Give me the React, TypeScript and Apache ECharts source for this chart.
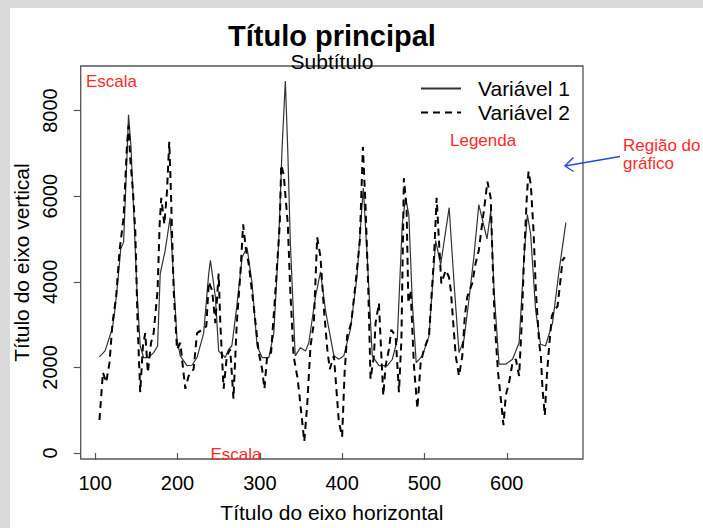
import React, { useEffect, useRef } from "react";
import * as echarts from "echarts";

const FONT = "'Liberation Sans', Arial, Helvetica, sans-serif";

const xTicks = [100, 200, 300, 400, 500, 600];
const yTicks = [0, 2000, 4000, 6000, 8000];

const seriesNames = ["Variável 1", "Variável 2"];

const v1X = [105, 112, 121, 124, 128, 131, 134.5, 137.3, 140.5, 143.4, 146.6, 150.7, 154.7, 158.8, 164.8, 171, 175.8, 179, 185, 191, 199.4, 203.4, 211.5, 217.6, 223.7, 231.8, 237.9, 240, 246, 250, 258, 262, 266, 272, 278.5, 284.5, 290.6, 296.7, 302.8, 310.9, 317, 323, 327, 331, 334, 337, 343, 349.4, 355.5, 359.5, 367.6, 373.7, 380, 390, 396, 402, 410, 418, 425.7, 430.5, 436.6, 444.7, 454.9, 461, 467, 473, 477, 481, 485.3, 490, 497.4, 505.5, 513.6, 519.7, 530, 536, 542, 548, 554, 560, 566, 576, 580.5, 584.5, 590.6, 598.8, 607, 615, 621, 625, 629, 635, 641, 647, 655.6, 663.6, 671.8];
const v1Y = [2245, 2385, 2920, 3350, 4110, 4770, 4920, 6270, 7900, 7190, 5730, 3800, 2500, 2230, 2230, 2345, 2500, 4190, 4730, 5500, 2650, 2270, 2040, 2050, 2230, 2800, 4190, 4500, 3650, 2380, 2230, 2420, 2500, 3420, 4575, 4800, 3960, 2500, 2230, 2230, 2800, 4960, 7110, 8690, 7040, 4960, 2270, 2460, 2380, 2575, 3650, 4230, 3300, 2270, 2190, 2270, 2880, 4110, 6190, 4575, 2270, 2040, 2040, 2190, 2650, 5340, 5960, 5570, 3500, 2110, 2270, 2730, 4960, 4400, 5730, 3960, 2345, 2650, 3575, 4575, 5800, 5000, 5650, 3800, 2075, 2075, 2190, 2575, 4575, 5570, 5110, 3345, 2540, 2500, 3040, 4270, 5380];

const v2X = [105.2, 109.4, 113.4, 117.4, 121, 125.5, 129.6, 134.5, 138.6, 140.5, 142.6, 145.9, 148.7, 151.5, 154.7, 158, 160.8, 164, 167.8, 171, 175.8, 178.3, 180.3, 184, 187.2, 190, 192, 195.3, 199.4, 203.4, 205.5, 209.5, 213.5, 219.6, 223.7, 229.8, 235, 238, 242, 246, 250, 252, 256, 260, 264, 268, 272, 276.4, 279.7, 283.3, 286.5, 292.6, 298.7, 302.8, 305.6, 308.9, 313.7, 319, 324.2, 326, 329, 334, 337, 341, 346, 349.4, 354, 357.5, 361.6, 365.6, 369.7, 373.7, 377.7, 382, 385, 390, 393, 396, 400, 403, 406, 411, 416.3, 421.5, 425.2, 428.5, 431.8, 434.5, 438.6, 440.6, 444.7, 446.7, 450, 452.8, 456.8, 459.7, 465, 469, 472, 475, 478.3, 480.4, 483.2, 487.2, 491.4, 495.4, 499.4, 505.5, 511.6, 514.8, 517.6, 520.5, 525.8, 529.8, 532, 535, 538, 542, 546, 549, 552, 558, 562, 566, 570, 573.6, 576.5, 580.5, 582.6, 585.4, 589.4, 592.7, 596, 598.8, 602.8, 607, 611, 615, 618.2, 621, 624.3, 626.4, 629.2, 632.5, 635.3, 639.3, 641.4, 643.4, 646.2, 648.7, 651.5, 654.7, 657.6, 661.6, 664.8, 667.7, 670.5];
const v2Y = [770, 1880, 1650, 2110, 3035, 3650, 4730, 5500, 7190, 7650, 6880, 6110, 5190, 3035, 1420, 2500, 2800, 1880, 2575, 2800, 3800, 5340, 5960, 5340, 6110, 7270, 6110, 3800, 2420, 2575, 2190, 1500, 1800, 1960, 2800, 2880, 2960, 4000, 3800, 3035, 4190, 3035, 1500, 2270, 2420, 1270, 3035, 4190, 5340, 4730, 4420, 3420, 2345, 1960, 1500, 2270, 2345, 3800, 5340, 6730, 6500, 5340, 3800, 2270, 1730, 1115, 270, 1115, 2500, 3035, 5040, 4575, 3400, 2420, 1960, 2270, 1500, 730, 380, 1880, 2730, 3035, 3960, 4960, 7150, 5730, 3800, 1730, 2270, 3035, 3500, 2650, 1345, 2040, 2420, 2880, 2730, 1420, 2650, 6420, 5730, 3500, 3800, 2040, 1040, 2110, 2420, 2730, 4575, 5960, 4960, 3960, 4270, 4110, 3800, 3035, 2270, 1800, 2270, 3190, 3650, 3960, 4420, 4730, 5340, 5880, 6340, 5960, 4575, 3035, 1880, 1270, 650, 1345, 1650, 2110, 2190, 1800, 3035, 4575, 5960, 6575, 6270, 5190, 3800, 2575, 2270, 1500, 880, 1800, 2500, 3190, 3345, 3420, 3960, 4500, 4575];

export default function App() {
  const ref = useRef<HTMLDivElement>(null);

  useEffect(() => {
    if (!ref.current) return;
    const chart = echarts.init(ref.current, null, { renderer: "svg" });
    const red = "#ff2a2a";
    const blue = "#2448d8";
    const option: any = {
      animation: false,
      backgroundColor: "transparent",
      textStyle: { fontFamily: FONT },
      grid: {
        left: 80.7,
        top: 66,
        right: 120,
        bottom: 64,
        show: true,
        borderColor: "#555",
        borderWidth: 1.3,
        backgroundColor: "transparent",
      },
      legend: {
        data: seriesNames,
        orient: "vertical",
        left: 420,
        top: 78,
        padding: 0,
        itemWidth: 40,
        itemHeight: 14,
        itemGap: 3,
        itemStyle: { color: "rgba(0,0,0,0)", borderWidth: 0, opacity: 0 },
        textStyle: { fontSize: 21, color: "#000", fontFamily: FONT, padding: [0, 0, 0, 12] },
      },
      xAxis: {
        type: "value",
        min: 82.4,
        max: 692.6,
        splitLine: { show: false },
        axisLine: { show: false },
        axisTick: { show: true, inside: false, length: 7, lineStyle: { color: "#555", width: 1.2 }, customValues: xTicks },
        axisLabel: { customValues: xTicks, fontSize: 20, color: "#000", margin: 14, fontFamily: FONT, formatter: (v: number) => String(v) },
        name: "Título do eixo horizontal",
        nameLocation: "middle",
        nameGap: 43,
        nameTextStyle: { fontSize: 21, color: "#000", fontFamily: FONT },
      },
      yAxis: {
        type: "value",
        min: -140,
        max: 9040,
        splitLine: { show: false },
        axisLine: { show: false },
        axisTick: { show: true, inside: false, length: 7, lineStyle: { color: "#555", width: 1.2 }, customValues: yTicks },
        axisLabel: { customValues: yTicks, fontSize: 20, color: "#000", margin: 21, rotate: 90, fontFamily: FONT, formatter: (v: number) => String(v) },
        name: "Título do eixo vertical",
        nameLocation: "middle",
        nameGap: 49,
        nameTextStyle: { fontSize: 21, color: "#000", fontFamily: FONT },
      },
      series: [
        {
          name: seriesNames[0],
          type: "line",
          data: v1X.map((x, i) => [x, v1Y[i]]),
          symbol: "none",
          lineStyle: { color: "#333", width: 1.2, type: "solid" },
          itemStyle: { color: "#000" },
          z: 3,
        },
        {
          name: seriesNames[1],
          type: "line",
          data: v2X.map((x, i) => [x, v2Y[i]]),
          symbol: "none",
          lineStyle: { color: "#000", width: 2, type: [7, 5] },
          itemStyle: { color: "#000" },
          z: 4,
        },
      ],
      graphic: [
        { type: "text", x: 332, y: 35.5, style: { text: "Título principal", font: `bold 29px ${FONT}`, fill: "#000", textAlign: "center", textVerticalAlign: "middle" } },
        { type: "text", x: 332, y: 61, style: { text: "Subtítulo", font: `21px ${FONT}`, fill: "#000", textAlign: "center", textVerticalAlign: "middle" } },
        { type: "text", x: 86, y: 81.5, style: { text: "Escala", font: `17px ${FONT}`, fill: red, textAlign: "left", textVerticalAlign: "middle" } },
        { type: "text", x: 210.5, y: 454, style: { text: "Escala", font: `17px ${FONT}`, fill: red, textAlign: "left", textVerticalAlign: "middle" } },
        { type: "text", x: 450, y: 140, style: { text: "Legenda", font: `17px ${FONT}`, fill: red, textAlign: "left", textVerticalAlign: "middle" } },
        { type: "text", x: 623, y: 145.5, style: { text: "Região do", font: `17px ${FONT}`, fill: red, textAlign: "left", textVerticalAlign: "middle" } },
        { type: "text", x: 623, y: 163.5, style: { text: "gráfico", font: `17px ${FONT}`, fill: red, textAlign: "left", textVerticalAlign: "middle" } },
        { type: "line", shape: { x1: 620, y1: 156.5, x2: 565, y2: 166 }, style: { stroke: blue, lineWidth: 1.4 } },
        { type: "polyline", shape: { points: [[573.5, 157.5], [565, 166], [573.5, 171.5]] }, style: { stroke: blue, lineWidth: 1.4, fill: "none" } },
      ],
    };
    chart.setOption(option);
    return () => chart.dispose();
  }, []);

  return (
    <div style={{ position: "fixed", left: 0, top: 0, width: 703, height: 528, background: "#dadada" }}>
      <div style={{ position: "absolute", left: 10, top: 8, right: 0, bottom: 0, background: "#fff" }} />
      <div ref={ref} style={{ position: "absolute", left: 0, top: 0, width: 703, height: 528 }} />
    </div>
  );
}
